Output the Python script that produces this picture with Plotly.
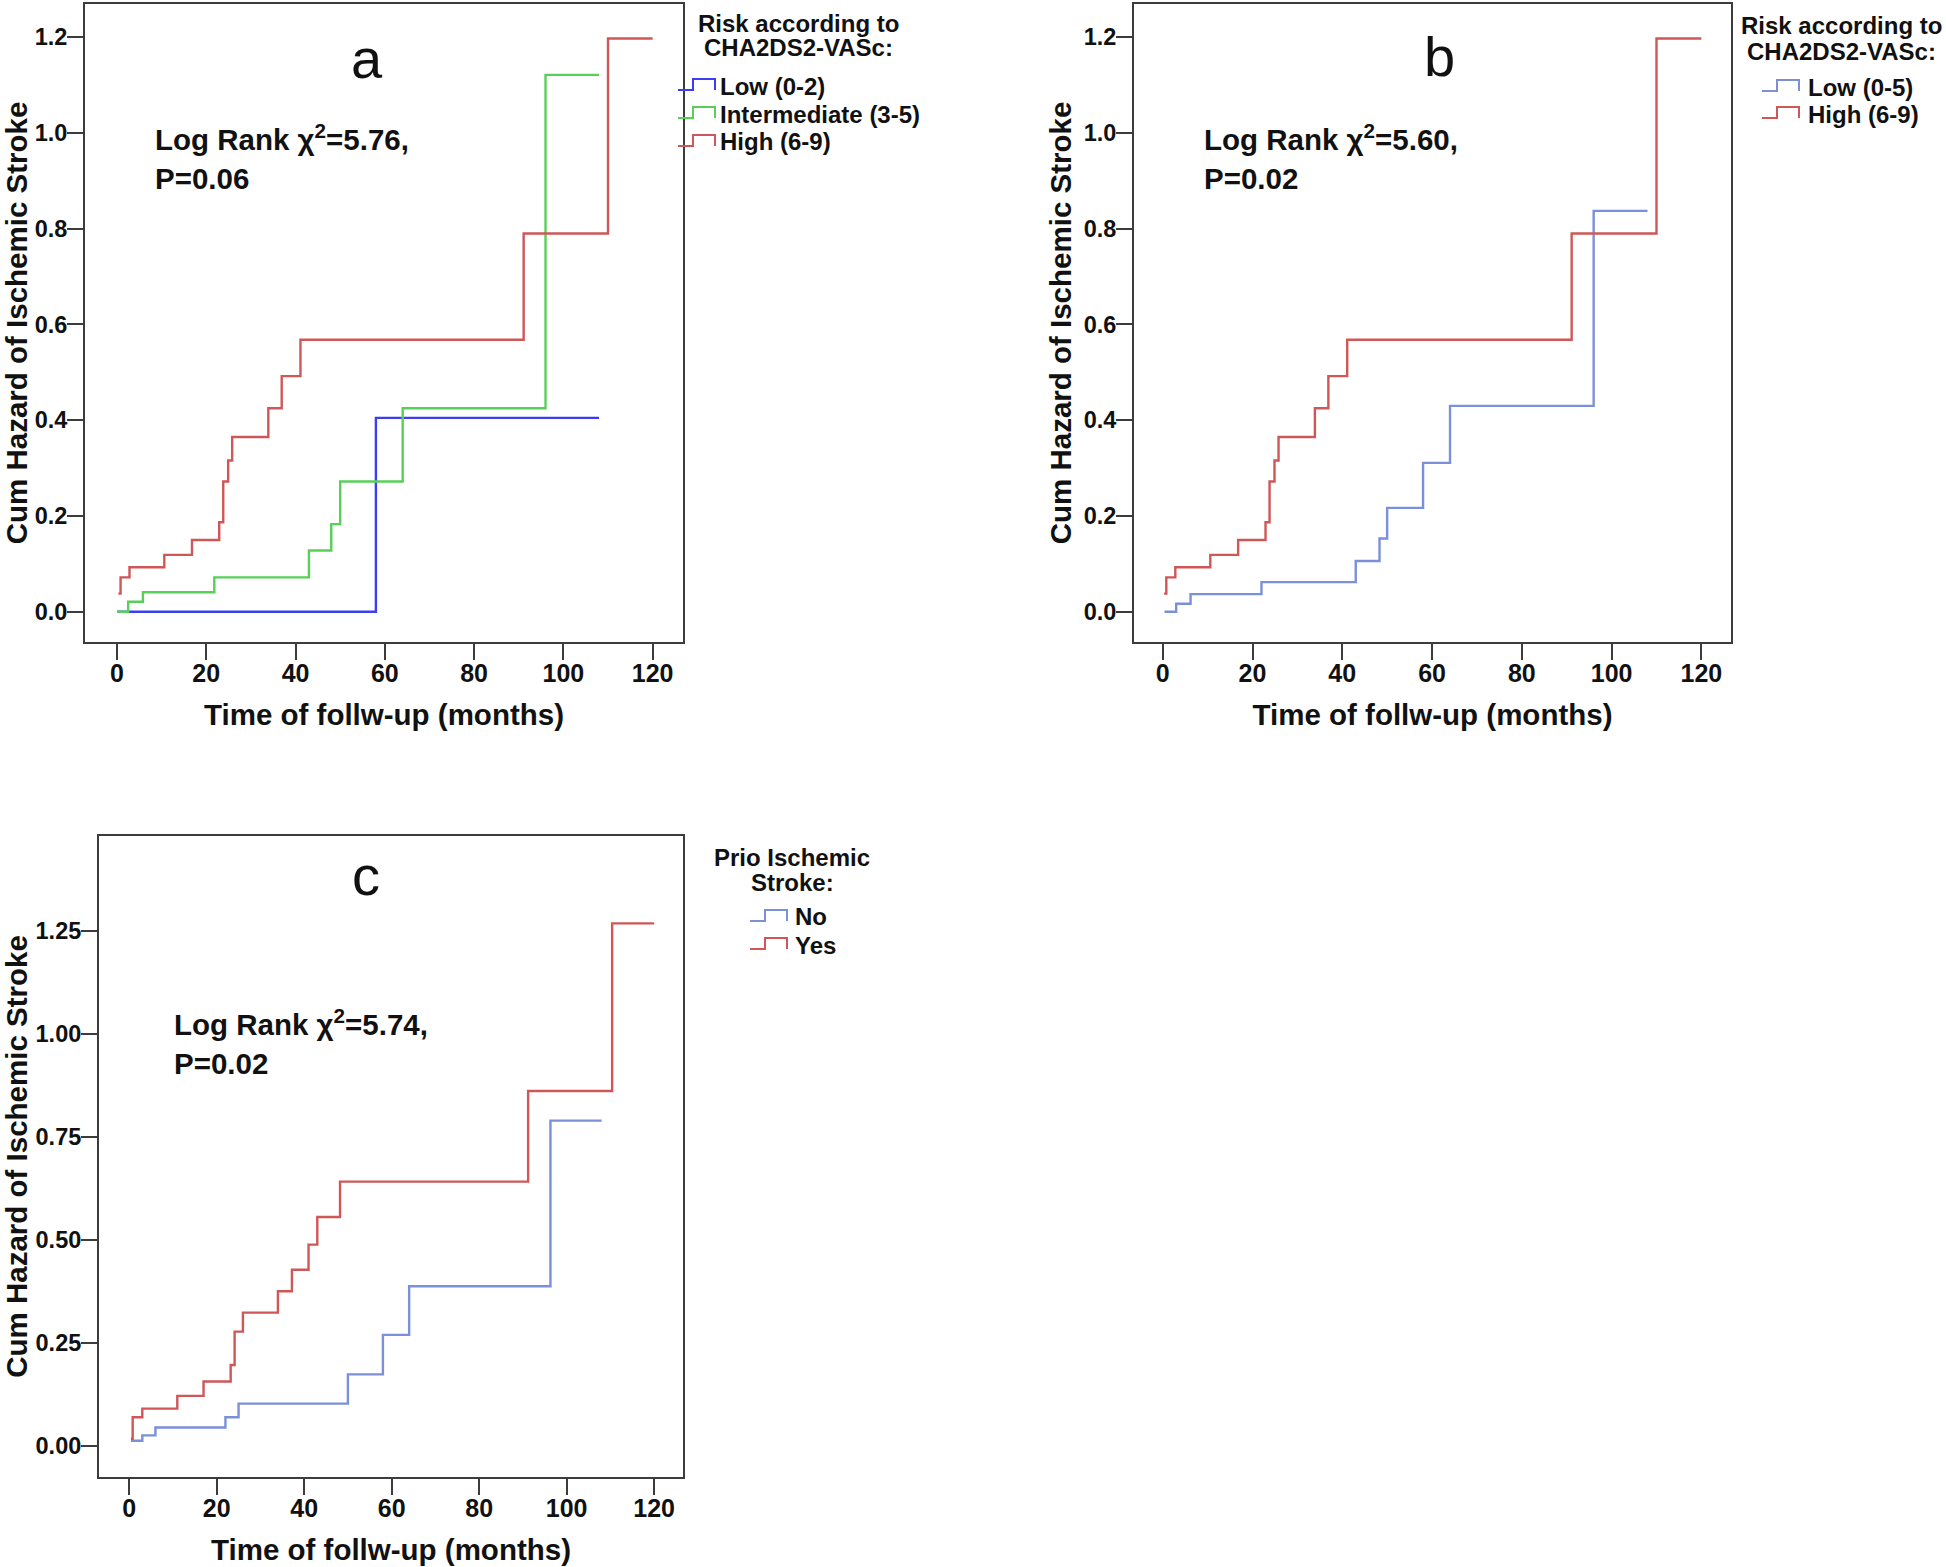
import plotly.graph_objects as go

# ==== data (months, cumulative hazard) ====

# panel a: risk by CHA2DS2-VASc, 3 groups
a_low_t = [0, 58, 108]
a_low_h = [0, 0.405, 0.405]
a_mid_t = [0, 2.5, 5.8, 21.8, 43, 48, 50, 64, 96, 108]
a_mid_h = [0, 0.021, 0.041, 0.072, 0.128, 0.183, 0.272, 0.425, 1.121, 1.121]
high_t = [0.3, 0.8, 2.8, 10.6, 16.8, 22.9, 23.8, 24.9, 25.8, 33.9, 36.9, 41.1, 91.1, 110.0, 120]
high_h = [0.038, 0.072, 0.093, 0.119, 0.150, 0.187, 0.272, 0.316, 0.365, 0.425, 0.492, 0.568, 0.790, 1.197, 1.197]

# panel b: 2 groups (high group is the same as in a)
b_low_t = [0.4, 3, 6.2, 22, 43, 48.3, 50, 58, 64, 96, 108]
b_low_h = [0, 0.017, 0.037, 0.062, 0.106, 0.153, 0.217, 0.311, 0.430, 0.837, 0.837]

# panel c: prior ischemic stroke
c_no_t = [0.4, 3, 6, 22, 25, 50, 58, 64, 96.3, 108]
c_no_h = [0.012, 0.025, 0.044, 0.069, 0.102, 0.173, 0.269, 0.387, 0.789, 0.789]
c_yes_t = [0.4, 0.8, 3, 11, 17, 23.2, 24.1, 26, 34, 37.2, 41, 43, 48.2, 91.2, 110.4, 120]
c_yes_h = [0.017, 0.069, 0.090, 0.121, 0.156, 0.196, 0.277, 0.323, 0.375, 0.427, 0.488, 0.555, 0.641, 0.861, 1.268, 1.268]

stats = ["Log Rank χ<sup>2</sup>=5.76,<br>P=0.06",
         "Log Rank χ<sup>2</sup>=5.60,<br>P=0.02",
         "Log Rank χ<sup>2</sup>=5.74,<br>P=0.02"]
risk_title = ["Risk according to", "CHA2DS2-VASc:"]
prior_title = ["Prio Ischemic", "Stroke:"]
x_ticks = [0, 20, 40, 60, 80, 100, 120]
y_ticks_ab = [0.0, 0.2, 0.4, 0.6, 0.8, 1.0, 1.2]
y_ticks_c = [0.0, 0.25, 0.5, 0.75, 1.0, 1.25]

FONT = "Liberation Sans, Arial, sans-serif"
RED = "#cf5757"
GREEN = "#58d058"
BLUE = "#3c3cf5"
PALE_BLUE = "#7b90d8"
FRAME = "#3c3c3c"
INK = "#111111"

FW, FH = 1946, 1567


def px(x):
    return x / FW


def py(y):
    return 1 - y / FH


fig = go.Figure()


def step(x, y, name, color, ax):
    fig.add_trace(go.Scatter(
        x=x, y=y, name=name, mode="lines", line_shape="hv",
        line=dict(color=color, width=2.4),
        xaxis="x" + ax, yaxis="y" + ax, showlegend=False,
    ))


step(a_low_t, a_low_h, "Low (0-2)", BLUE, "")
step(a_mid_t, a_mid_h, "Intermediate (3-5)", GREEN, "")
step(high_t, high_h, "High (6-9)", RED, "")

step(b_low_t, b_low_h, "Low (0-5)", PALE_BLUE, "2")
step(high_t, high_h, "High (6-9)", RED, "2")

step(c_no_t, c_no_h, "No", PALE_BLUE, "3")
step(c_yes_t, c_yes_h, "Yes", RED, "3")


def xax(x0, x1, rng, anchor):
    return dict(
        domain=[px(x0), px(x1)], range=rng, anchor=anchor,
        tickvals=x_ticks, ticks="outside", ticklen=16, tickwidth=2, tickcolor=FRAME,
        ticklabelstandoff=-8,
        showline=True, mirror=True, linecolor=FRAME, linewidth=2,
        showgrid=False, zeroline=False,
        tickfont=dict(family=FONT, size=25, color=INK, weight="bold"),
        title=dict(text="Time of follw-up (months)", standoff=18.5,
                   font=dict(family=FONT, size=29.5, color=INK, weight="bold")),
    )


def yax(top, bottom, rng, anchor, ticks, fmt):
    return dict(
        domain=[py(bottom), py(top)], range=rng, anchor=anchor,
        tickvals=ticks, tickformat=fmt, ticks="outside", ticklen=16, tickwidth=2,
        ticklabelstandoff=-5,
        tickcolor=FRAME, showline=True, mirror=True, linecolor=FRAME, linewidth=2,
        showgrid=False, zeroline=False,
        tickfont=dict(family=FONT, size=23.5, color=INK, weight="bold"),
        title=dict(text="Cum Hazard of Ischemic Stroke", standoff=3,
                   font=dict(family=FONT, size=29.5, color=INK, weight="bold")),
    )


fig.update_layout(
    width=FW, height=FH, template="none",
    margin=dict(l=0, r=0, t=0, b=0),
    paper_bgcolor="white", plot_bgcolor="white",
    xaxis=xax(85, 683, [-7.17, 126.8], "y"),
    yaxis=yax(4, 642, [-0.063, 1.269], "x", y_ticks_ab, ".1f"),
    xaxis2=xax(1134, 1731, [-6.4, 126.6], "y2"),
    yaxis2=yax(4, 642, [-0.063, 1.269], "x2", y_ticks_ab, ".1f"),
    xaxis3=xax(99, 683, [-6.9, 126.6], "y3"),
    yaxis3=yax(836, 1477, [-0.076, 1.48], "x3", y_ticks_c, ".2f"),
    showlegend=False,
)

# panel letters and log-rank text
for i, (ax, letter, lx, ly, sx, sy) in enumerate([("", "a", 56, 1.155, 8.0, 0.949),
                                                  ("2", "b", 61.7, 1.16, 8.7, 0.949),
                                                  ("3", "c", 54.2, 1.383, 9.8, 0.979)]):
    fig.add_annotation(x=lx, y=ly, xref="x" + ax, yref="y" + ax, text=letter,
                       showarrow=False, xanchor="center", yanchor="middle",
                       font=dict(family=FONT, size=56, color=INK))
    fig.add_annotation(x=sx, y=sy, xref="x" + ax, yref="y" + ax, text=stats[i],
                       showarrow=False, xanchor="left", yanchor="middle", align="left",
                       font=dict(family=FONT, size=29.5, color=INK, weight="bold"))


# legends drawn by hand: two-line title, step glyphs and labels
def legend(title, title_x, title_y, gap, glyph_x, text_x, first_y, step_y, entries):
    for k, line in enumerate(title):
        fig.add_annotation(x=px(title_x), y=py(title_y + k * gap), xref="paper", yref="paper",
                           text=line, showarrow=False, xanchor="center", yanchor="middle",
                           font=dict(family=FONT, size=24, color=INK, weight="bold"))
    for k, (name, color) in enumerate(entries):
        yc = first_y + k * step_y
        x0, x1 = glyph_x, glyph_x + 37
        xm = x0 + 15
        yb, yt = yc + 4, yc - 7
        path = "M{},{} L{},{} L{},{} L{},{} L{},{}".format(
            px(x0), py(yb), px(xm), py(yb), px(xm), py(yt), px(x1), py(yt), px(x1), py(yb))
        fig.add_shape(type="path", path=path, xref="paper", yref="paper",
                      line=dict(color=color, width=2))
        fig.add_annotation(x=px(text_x), y=py(yc), xref="paper", yref="paper", text=name,
                           showarrow=False, xanchor="left", yanchor="middle",
                           font=dict(family=FONT, size=24, color=INK, weight="bold"))


legend(risk_title, 798, 23, 25, 678, 718, 86, 28,
       [("Low (0-2)", BLUE), ("Intermediate (3-5)", GREEN), ("High (6-9)", RED)])
legend(risk_title, 1841, 26, 25, 1762, 1806, 87, 27,
       [("Low (0-5)", PALE_BLUE), ("High (6-9)", RED)])
legend(prior_title, 792, 857, 25, 750, 793, 917, 28,
       [("No", PALE_BLUE), ("Yes", RED)])

# the page body keeps its default 8px margin otherwise
fig.write_html("out.html", config={"displayModeBar": False},
               post_script="document.body.style.margin='0';")
